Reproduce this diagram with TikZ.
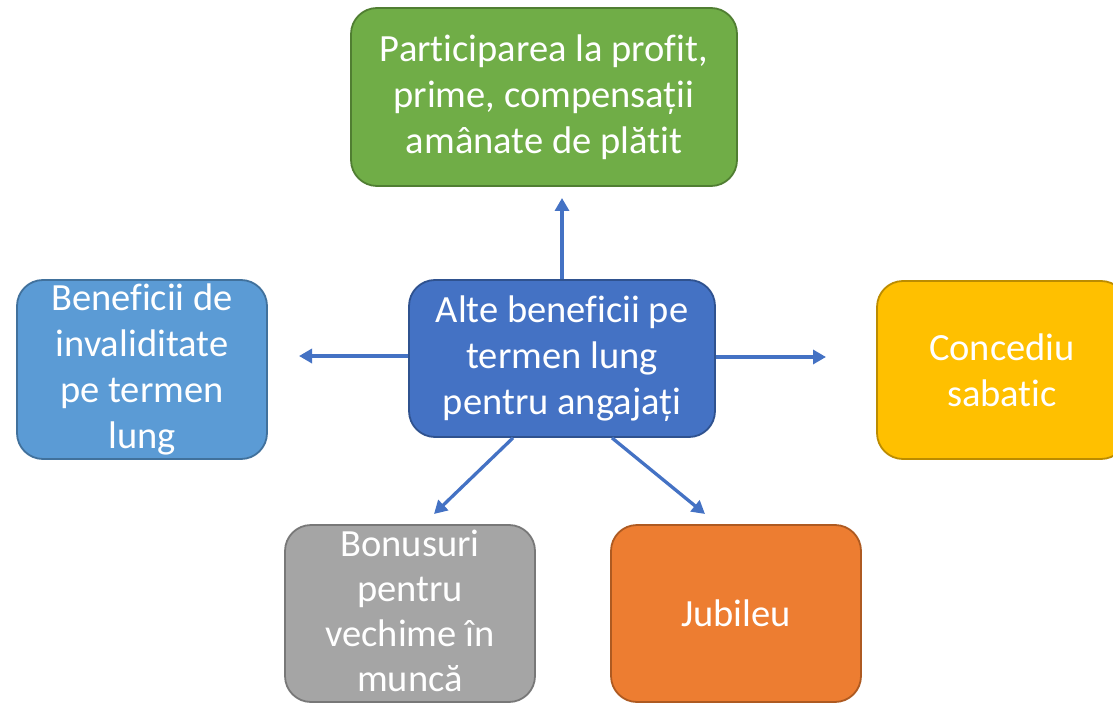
\documentclass[tikz,border=0pt]{standalone}
\usepackage{fontspec}
\setmainfont[Ligatures=NoCommon]{Carlito}
\usetikzlibrary{calc,arrows.meta}
\definecolor{gfill}{HTML}{70AD47}\definecolor{gline}{HTML}{507E32}
\definecolor{bfill}{HTML}{4472C4}\definecolor{bline}{HTML}{2F528F}
\definecolor{lfill}{HTML}{5B9BD5}\definecolor{lline}{HTML}{41719C}
\definecolor{yfill}{HTML}{FFC000}\definecolor{yline}{HTML}{BC8C00}
\definecolor{afill}{HTML}{A5A5A5}\definecolor{aline}{HTML}{787878}
\definecolor{ofill}{HTML}{ED7D31}\definecolor{oline}{HTML}{AE5A21}
\tikzset{
  box/.style={rectangle, rounded corners=26pt, line width=1.8pt, inner sep=0pt,
    text=white, align=center, font=\fontsize{38.5}{46}\selectfont},
  boxtext/.style={inner sep=0pt, text=white, align=center, font=\fontsize{38.5}{45}\selectfont},
  conn/.style={draw=bfill, line width=3.3pt, -{Triangle[length=13pt,width=14pt]}}
}
\begin{document}
\begin{tikzpicture}[x=1pt,y=-1pt]
\useasboundingbox (0,0) rectangle (1113,703);
\begin{scope}
\clip (0,0) rectangle (1113,703);
\node[box, fill=gfill, draw=gline, minimum width=386pt, minimum height=178pt] (g) at (544,97) {Participarea la profit,\\prime, compensații\\amânate de plătit};
\node[box, fill=bfill, draw=bline, minimum width=306pt, minimum height=157pt] (c) at (562,358.5) {Alte beneficii pe\\termen lung\\pentru angajați};
\node[box, fill=lfill, draw=lline, minimum width=250pt, minimum height=179pt] (l) at (142,369.5) {Beneficii de\\invaliditate\\pe termen\\lung};
\node[box, fill=yfill, draw=yline, minimum width=250pt, minimum height=178pt] (y) at (1002,370) {Concediu\\sabatic};
\node[box, fill=afill, draw=aline, minimum width=250pt, minimum height=177pt] (a) at (410,613.5) {};
\node[boxtext] (at) at (410,610.5) {Bonusuri\\pentru\\vechime în\\muncă};
\node[box, fill=ofill, draw=oline, minimum width=250pt, minimum height=177pt] (o) at (736,613.5) {Jubileu};
\end{scope}
\coordinate (tU) at (562,198);
\coordinate (tL) at (299,356);
\coordinate (tR) at (826,357);
\coordinate (tDL) at (434,514);
\coordinate (tDR) at (705,514);
\draw[conn] (c.north) -- (tU);
\draw[conn] (c.west |- tL) -- (tL);
\draw[conn] (c.east |- tR) -- (tR);
\draw[conn] ($(c.south)+(-49,0)$) -- (tDL);
\draw[conn] ($(c.south)+(50,0)$) -- (tDR);
\end{tikzpicture}
\end{document}
